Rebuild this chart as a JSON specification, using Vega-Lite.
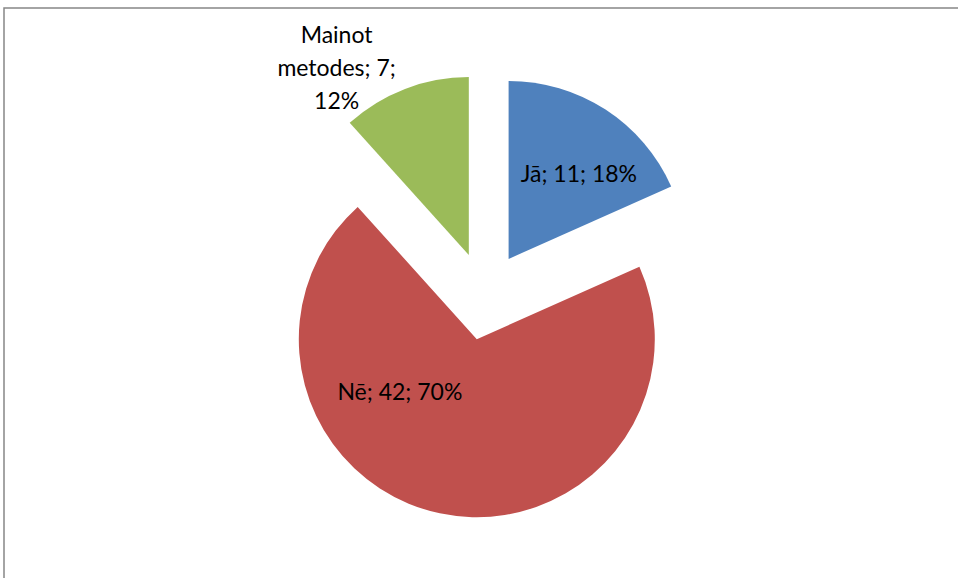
{
  "$schema": "https://vega.github.io/schema/vega-lite/v6.json",
  "autosize": "none",
  "width": 962,
  "height": 576,
  "padding": {"left": 4, "top": 8, "right": 0, "bottom": 0},
  "background": "white",
  "config": {"view": {"stroke": null}},
  "data": {
    "values": [
      {"category": "Jā", "value": 11},
      {"category": "Nē", "value": 42},
      {"category": "Mainot metodes", "value": 7}
    ]
  },
  "transform": [
    {"window": [{"op": "row_number", "as": "rank"}]},
    {"joinaggregate": [{"op": "sum", "field": "value", "as": "total"}]},
    {"calculate": "datum.category + '; ' + datum.value + '; ' + format(datum.value / datum.total, '.0%')", "as": "label"},
    {"calculate": "split(replace(replace(datum.label, ' ', '|'), regexp('; (\\\\d+%)$'), ';|$1'), '|')", "as": "lines"}
  ],
  "layer": [
    {
      "transform": [{"filter": "datum.rank === 1"}],
      "mark": {"type": "rect", "fill": "transparent", "stroke": "#878787", "strokeWidth": 1.5},
      "encoding": {}
    },
    {
      "mark": {"type": "arc", "radius": 178, "xOffset": 23.6, "yOffset": -37.1},
      "encoding": {
        "theta": {"field": "value", "type": "quantitative", "stack": true},
        "order": {"field": "rank", "type": "quantitative"},
        "color": {"field": "category", "type": "nominal", "scale": {"domain": ["Jā", "Nē", "Mainot metodes"], "range": ["#4F81BD", "#C0504D", "#9BBB59"]}, "legend": null},
        "opacity": {"condition": {"test": "datum.category === 'Jā'", "value": 1}, "value": 0}
      }
    },
    {
      "mark": {"type": "arc", "radius": 178, "xOffset": -8.2, "yOffset": 43.2},
      "encoding": {
        "theta": {"field": "value", "type": "quantitative", "stack": true},
        "order": {"field": "rank", "type": "quantitative"},
        "color": {"field": "category", "type": "nominal", "scale": {"domain": ["Jā", "Nē", "Mainot metodes"], "range": ["#4F81BD", "#C0504D", "#9BBB59"]}, "legend": null},
        "opacity": {"condition": {"test": "datum.category === 'Nē'", "value": 1}, "value": 0}
      }
    },
    {
      "mark": {"type": "arc", "radius": 178, "xOffset": -16.2, "yOffset": -40.9},
      "encoding": {
        "theta": {"field": "value", "type": "quantitative", "stack": true},
        "order": {"field": "rank", "type": "quantitative"},
        "color": {"field": "category", "type": "nominal", "scale": {"domain": ["Jā", "Nē", "Mainot metodes"], "range": ["#4F81BD", "#C0504D", "#9BBB59"]}, "legend": null},
        "opacity": {"condition": {"test": "datum.category === 'Mainot metodes'", "value": 1}, "value": 0}
      }
    },
    {
      "mark": {"type": "text", "radius": 107, "xOffset": 23.6, "yOffset": -37.1, "dx": 12, "dy": 6, "font": "Lato", "fontSize": 23, "align": "center", "baseline": "middle"},
      "encoding": {
        "theta": {"field": "value", "type": "quantitative", "stack": true},
        "order": {"field": "rank", "type": "quantitative"},
        "text": {"field": "label", "type": "nominal"},
        "color": {"value": "black"},
        "opacity": {"condition": {"test": "datum.category === 'Jā'", "value": 1}, "value": 0}
      }
    },
    {
      "mark": {"type": "text", "radius": 67, "xOffset": -8.2, "yOffset": 43.2, "dx": -63, "dy": -12, "font": "Lato", "fontSize": 23, "align": "center", "baseline": "middle"},
      "encoding": {
        "theta": {"field": "value", "type": "quantitative", "stack": true},
        "order": {"field": "rank", "type": "quantitative"},
        "text": {"field": "label", "type": "nominal"},
        "color": {"value": "black"},
        "opacity": {"condition": {"test": "datum.category === 'Nē'", "value": 1}, "value": 0}
      }
    },
    {
      "mark": {"type": "text", "radius": 221, "xOffset": -16.2, "yOffset": -40.9, "dx": -53, "dy": -13, "font": "Lato", "fontSize": 23, "lineHeight": 33, "align": "center", "baseline": "middle"},
      "encoding": {
        "theta": {"field": "value", "type": "quantitative", "stack": true},
        "order": {"field": "rank", "type": "quantitative"},
        "text": {"field": "lines", "type": "nominal"},
        "color": {"value": "black"},
        "opacity": {"condition": {"test": "datum.category === 'Mainot metodes'", "value": 1}, "value": 0}
      }
    }
  ]
}
